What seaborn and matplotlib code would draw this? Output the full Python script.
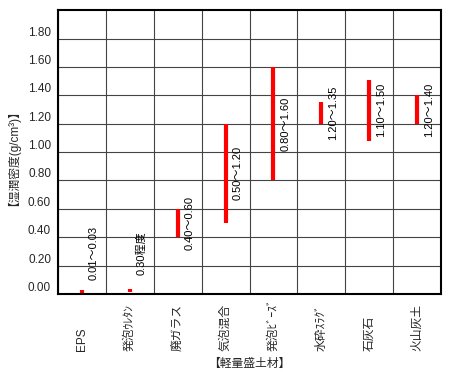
import matplotlib
matplotlib.use("Agg")
import matplotlib.pyplot as plt
import numpy as np
import pandas as pd
import seaborn as sns

# categories (half-width katakana as in the original)
materials = ["EPS", "発泡ｳﾚﾀﾝ", "廃ガラス", "気泡混合", "発泡ﾋﾞｰｽﾞ", "水砕ｽﾗｸﾞ", "石灰石", "火山灰土"]
# density ranges (g/cm3) as drawn
low = [0.00, 0.015, 0.40, 0.50, 0.80, 1.20, 1.08, 1.20]
high = [0.03, 0.035, 0.60, 1.20, 1.60, 1.35, 1.51, 1.40]
range_labels = ["0.01～0.03", "0.30程度", "0.40～0.60", "0.50～1.20",
                "0.80～1.60", "1.20～1.35", "1.10～1.50", "1.20～1.40"]
yticks = [0.0, 0.2, 0.4, 0.6, 0.8, 1.0, 1.2, 1.4, 1.6, 1.8]

sns.set_style("white")
plt.rcParams["font.family"] = ["Liberation Sans", "Noto Sans CJK JP", "DejaVu Sans"]

df = pd.DataFrame({
    "material": materials * 2,
    "density": low + high,
})

fig = plt.figure(figsize=(4.5, 3.75), dpi=100)
ax = fig.add_axes([0.129, 0.216, 0.851, 0.757])

sns.lineplot(
    data=df,
    x="material",
    y="density",
    units="material",
    estimator=None,
    sort=False,
    color="#ff0000",
    linewidth=3,
    solid_capstyle="butt",
    ax=ax,
)

# range labels, rotated, right of each bar
for i, (lo, hi, txt) in enumerate(zip(low, high, range_labels)):
    ymid = max((lo + hi) / 2, 0.29)
    ax.text(i + 0.25, ymid, txt, rotation=90, ha="center", va="center",
            fontsize=8, color="black")

ax.set_xlim(-0.5, len(materials) - 0.5)
ax.set_ylim(0, 2.0)

ax.set_yticks(yticks)
ax.set_yticklabels([f"{v:.2f}" for v in yticks], va="bottom", fontsize=8.5)
ax.set_xticks(range(len(materials)))
ax.set_xticklabels(materials, rotation=90, va="bottom", ha="center", fontsize=8.5)
ax.set_xticks(np.arange(-0.5, len(materials), 1.0), minor=True)
ax.tick_params(axis="both", which="both", length=0)
ax.tick_params(axis="x", which="major", pad=41)
ax.tick_params(axis="y", pad=5)

ax.grid(True, axis="y", which="major", color="#444444", linewidth=0.8)
ax.grid(True, axis="x", which="minor", color="#444444", linewidth=0.8)
ax.grid(False, axis="x", which="major")
ax.set_axisbelow(True)

for s in ax.spines.values():
    s.set_visible(True)
    s.set_color("black")
    s.set_linewidth(1.5)

ax.set_xlabel("【軽量盛土材】", fontsize=8.5, labelpad=5)
ax.set_ylabel("【湿潤密度(g/cm³)】", fontsize=8.5, labelpad=10)

fig.savefig("out.png", dpi=100)
